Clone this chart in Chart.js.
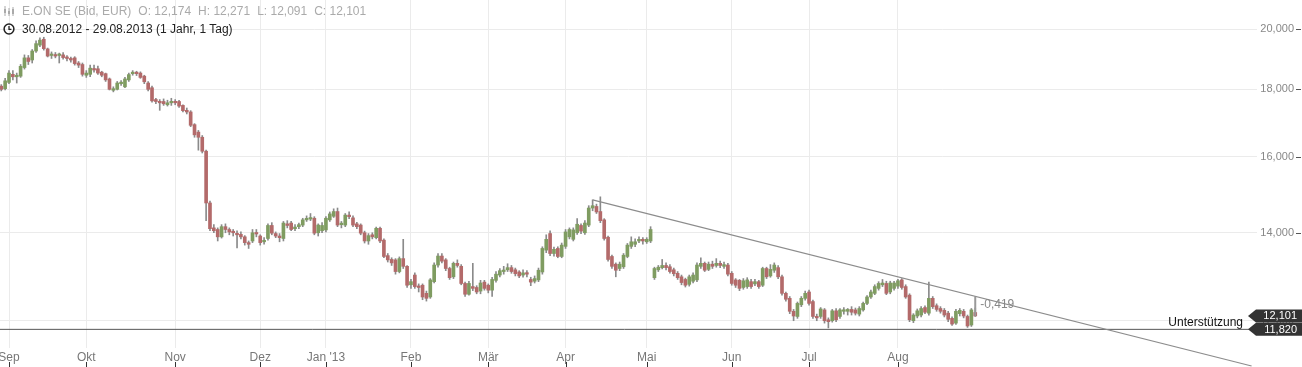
<!DOCTYPE html>
<html>
<head>
<meta charset="utf-8">
<script src="https://cdn.jsdelivr.net/npm/chart.js@4.4.0/dist/chart.umd.min.js"></script>
<style>
  body { margin: 0; background: #fff; }
  #wrap { position: relative; width: 1302px; height: 367px; }
  .hdr { position: absolute; left: 3px; font: 12px "Liberation Sans", Arial, sans-serif; white-space: nowrap; }
  .hdr svg { vertical-align: -2px; margin-right: 7px; }
  .hdr .grp { margin-right: 7px; }
</style>
</head>
<body>
<div id="wrap">
  <canvas id="chart" width="1302" height="367"></canvas>
  <div class="hdr" style="top:4px; color:#aaa">
    <svg width="12" height="12" viewBox="0 0 12 12"><path d="M2 1v10M6 3v8M10 2v9" stroke="#aaa" stroke-width="1"/><rect x="1" y="4" width="2" height="4" fill="#aaa"/><rect x="5" y="6" width="2" height="3" fill="#aaa"/><rect x="9" y="4" width="2" height="5" fill="#aaa"/></svg><span class="grp">E.ON SE (Bid, EUR)</span><span class="grp" id="hO"></span><span class="grp" id="hH"></span><span class="grp" id="hL"></span><span id="hC"></span>
  </div>
  <div class="hdr" style="top:22px; color:#222">
    <svg width="12" height="12" viewBox="0 0 12 12"><circle cx="6" cy="6" r="4.9" fill="none" stroke="#222" stroke-width="1.5"/><path d="M6 3v3.3h2.4" fill="none" stroke="#222" stroke-width="1.3"/></svg>30.08.2012 - 29.08.2013 (1 Jahr, 1 Tag)
  </div>
</div>
<script>
// ===== Daten: E.ON SE, Tageskerzen 30.08.2012 - 29.08.2013 =====

const monthStarts = [2, 22, 45, 67, 84, 106, 126, 146, 167, 189, 209, 232];
const monthLabels = ['Sep', 'Okt', 'Nov', 'Dez', "Jan '13", 'Feb', 'Mär', 'Apr', 'Mai', 'Jun', 'Jul', 'Aug'];
const yTickValues = [12, 14, 16, 18, 20];

const openPrices = [
  18.10, 18.02, 18.22, 18.48, 18.40, 18.42, 18.70, 19.02, 18.95, 19.25,
  19.45, 19.65, 19.32, 19.10, 19.12, 19.10, 19.12, 19.03, 19.00, 19.02,
  18.85, 18.80, 18.45, 18.48, 18.66, 18.66, 18.55, 18.50, 18.33, 17.97,
  18.00, 18.18, 18.08, 18.30, 18.50, 18.54, 18.52, 18.42, 18.20, 18.05,
  17.68, 17.62, 17.62, 17.52, 17.58, 17.62, 17.62, 17.50, 17.35, 17.30,
  16.92, 16.70, 16.55, 16.15, 14.75, 14.12, 14.08, 13.90, 14.15, 14.08,
  14.02, 13.98, 13.96, 13.90, 13.76, 13.80, 14.00, 13.92, 13.78, 13.86,
  14.18, 13.98, 13.92, 13.86, 14.22, 14.24, 14.10, 14.15, 14.19, 14.32,
  14.34, 14.36, 14.00, 14.05, 14.07, 14.32, 14.41, 14.53, 14.20, 14.19,
  14.44, 14.37, 14.22, 14.19, 14.00, 13.80, 13.95, 13.88, 14.11, 13.82,
  13.45, 13.36, 13.35, 13.08, 13.38, 13.20, 12.78, 13.00, 12.75, 12.77,
  12.59, 12.51, 12.85, 13.23, 13.44, 13.35, 13.15, 12.96, 13.27, 13.20,
  12.81, 12.57, 12.74, 12.72, 12.64, 12.84, 12.77, 12.66, 12.88, 13.00,
  13.08, 13.12, 13.17, 13.12, 13.07, 13.00, 13.05, 12.90, 12.86, 12.89,
  13.07, 13.58, 13.98, 13.50, 13.62, 13.43, 13.67, 13.90, 13.84, 14.00,
  14.18, 14.00, 14.19, 14.62, 14.66, 14.53, 14.32, 13.89, 13.43, 13.25,
  13.15, 13.19, 13.43, 13.67, 13.72, 13.80, 13.84, 13.78, 13.80, 12.94,
  13.12, 13.17, 13.22, 13.19, 13.12, 13.04, 12.96, 12.90, 12.79, 12.86,
  12.89, 13.20, 13.27, 13.13, 13.25, 13.22, 13.27, 13.20, 13.23, 13.04,
  12.89, 12.88, 12.72, 12.74, 12.85, 12.80, 12.85, 12.77, 13.15, 12.98,
  13.11, 13.17, 12.96, 12.59, 12.48, 12.20, 12.09, 12.34, 12.48, 12.62,
  12.41, 12.08, 12.09, 12.23, 12.02, 12.00, 12.21, 12.09, 12.20, 12.20,
  12.24, 12.23, 12.14, 12.23, 12.37, 12.51, 12.59, 12.70, 12.78, 12.81,
  12.62, 12.70, 12.75, 12.89, 12.74, 12.55, 12.00, 12.10, 12.12, 12.28,
  12.16, 12.48, 12.32, 12.26, 12.22, 12.16, 12.05, 11.95, 12.15, 12.20,
  12.09, 11.91, 12.174
];

const highPrices = [
  18.15, 18.35, 18.60, 18.60, 18.52, 18.80, 19.12, 19.10, 19.30, 19.60,
  19.70, 19.72, 19.35, 19.22, 19.20, 19.18, 19.20, 19.10, 19.05, 19.06,
  18.90, 18.85, 18.60, 18.78, 18.78, 18.75, 18.58, 18.52, 18.36, 18.08,
  18.25, 18.28, 18.38, 18.52, 18.60, 18.58, 18.56, 18.45, 18.25, 18.10,
  17.72, 17.68, 17.70, 17.66, 17.72, 17.68, 17.66, 17.52, 17.42, 17.34,
  16.95, 16.75, 16.60, 16.18, 14.80, 14.20, 14.12, 14.20, 14.22, 14.12,
  14.08, 14.05, 14.02, 13.93, 13.80, 14.08, 14.08, 13.95, 13.88, 14.22,
  14.25, 14.02, 13.98, 14.28, 14.30, 14.28, 14.20, 14.24, 14.36, 14.42,
  14.48, 14.40, 14.22, 14.25, 14.40, 14.52, 14.60, 14.62, 14.28, 14.48,
  14.52, 14.42, 14.26, 14.22, 14.04, 13.98, 14.00, 14.14, 14.14, 13.85,
  13.50, 13.40, 13.38, 13.42, 13.84, 13.22, 12.90, 13.05, 12.80, 12.80,
  12.64, 12.92, 13.28, 13.50, 13.50, 13.38, 13.18, 13.30, 13.35, 13.24,
  12.84, 12.86, 13.27, 12.76, 12.88, 12.88, 12.80, 12.95, 13.08, 13.15,
  13.20, 13.26, 13.22, 13.16, 13.10, 13.12, 13.10, 12.95, 12.98, 13.16,
  13.66, 13.95, 14.05, 13.65, 13.66, 13.75, 14.08, 14.12, 14.12, 14.35,
  14.22, 14.30, 14.68, 14.83, 14.72, 14.91, 14.35, 13.92, 13.46, 13.28,
  13.30, 13.50, 13.74, 13.90, 13.85, 13.90, 13.88, 13.88, 14.15, 13.18,
  13.22, 13.36, 13.28, 13.24, 13.16, 13.08, 13.00, 12.93, 13.00, 13.05,
  13.28, 13.40, 13.30, 13.30, 13.32, 13.38, 13.32, 13.30, 13.27, 13.08,
  12.92, 12.90, 12.92, 12.94, 12.90, 12.90, 12.88, 13.18, 13.18, 13.24,
  13.28, 13.22, 13.00, 12.62, 12.52, 12.24, 12.40, 12.52, 12.64, 12.66,
  12.44, 12.14, 12.28, 12.26, 12.06, 12.24, 12.26, 12.26, 12.28, 12.26,
  12.30, 12.27, 12.30, 12.40, 12.54, 12.66, 12.78, 12.85, 12.90, 12.86,
  12.86, 12.86, 12.90, 12.92, 12.78, 12.58, 12.15, 12.25, 12.30, 12.32,
  12.84, 12.52, 12.36, 12.30, 12.26, 12.20, 12.08, 12.24, 12.26, 12.24,
  12.12, 12.26, 12.271
];

const lowPrices = [
  17.95, 17.98, 18.18, 18.30, 18.20, 18.38, 18.65, 18.80, 18.85, 19.20,
  19.40, 19.28, 19.05, 19.00, 19.02, 18.85, 18.98, 18.92, 18.88, 18.78,
  18.70, 18.42, 18.38, 18.40, 18.55, 18.48, 18.40, 18.25, 17.98, 17.92,
  17.98, 18.12, 18.05, 18.25, 18.45, 18.44, 18.35, 18.18, 17.95, 17.60,
  17.55, 17.35, 17.50, 17.48, 17.50, 17.52, 17.44, 17.30, 17.24, 16.86,
  16.55, 16.18, 16.10, 14.30, 14.05, 14.00, 13.80, 13.87, 14.00, 13.95,
  13.92, 13.63, 13.85, 13.70, 13.62, 13.76, 13.90, 13.70, 13.72, 13.82,
  13.95, 13.88, 13.78, 13.80, 14.12, 14.05, 14.05, 14.10, 14.15, 14.28,
  14.30, 13.95, 13.92, 14.00, 14.02, 14.28, 14.38, 14.15, 14.12, 14.15,
  14.35, 14.15, 14.10, 13.95, 13.75, 13.72, 13.85, 13.85, 13.76, 13.40,
  13.30, 13.22, 13.02, 13.05, 13.15, 12.72, 12.70, 12.70, 12.62, 12.45,
  12.42, 12.48, 12.82, 13.18, 13.28, 13.10, 12.90, 12.92, 13.18, 12.78,
  12.52, 12.55, 12.65, 12.58, 12.58, 12.66, 12.60, 12.52, 12.84, 12.96,
  13.02, 13.08, 13.04, 12.98, 12.94, 12.95, 12.96, 12.76, 12.82, 12.85,
  13.02, 13.52, 13.45, 13.44, 13.40, 13.40, 13.62, 13.85, 13.80, 13.96,
  13.98, 13.96, 14.15, 14.55, 14.48, 14.25, 13.82, 13.32, 13.15, 12.96,
  13.10, 13.15, 13.40, 13.62, 13.66, 13.76, 13.72, 13.74, 13.76, 12.90,
  13.08, 13.14, 13.12, 13.04, 12.98, 12.90, 12.78, 12.73, 12.75, 12.82,
  12.85, 13.15, 13.08, 13.10, 13.15, 13.18, 13.17, 13.15, 12.98, 12.77,
  12.72, 12.65, 12.68, 12.70, 12.70, 12.76, 12.70, 12.74, 12.92, 12.95,
  13.06, 12.92, 12.55, 12.42, 12.15, 12.00, 12.05, 12.30, 12.44, 12.33,
  12.05, 12.00, 12.05, 11.95, 11.85, 11.97, 11.98, 12.05, 12.14, 12.12,
  12.12, 12.12, 12.10, 12.20, 12.34, 12.48, 12.56, 12.66, 12.74, 12.56,
  12.58, 12.66, 12.70, 12.68, 12.48, 11.98, 11.96, 12.06, 12.08, 12.15,
  12.12, 12.26, 12.20, 12.16, 12.08, 11.98, 11.90, 11.92, 12.10, 12.06,
  11.86, 11.88, 12.091
];

const closePrices = [
  18.00, 18.27, 18.52, 18.40, 18.45, 18.74, 19.02, 18.90, 19.25, 19.50,
  19.62, 19.33, 19.08, 19.14, 19.08, 19.12, 19.03, 19.00, 18.95, 18.83,
  18.78, 18.48, 18.52, 18.68, 18.62, 18.52, 18.45, 18.30, 18.00, 18.02,
  18.20, 18.22, 18.33, 18.47, 18.54, 18.50, 18.38, 18.24, 18.00, 17.64,
  17.62, 17.58, 17.55, 17.58, 17.62, 17.58, 17.48, 17.34, 17.30, 16.90,
  16.62, 16.55, 16.15, 14.75, 14.10, 14.05, 13.90, 14.15, 14.08, 14.02,
  14.00, 13.95, 13.90, 13.76, 13.72, 14.00, 13.97, 13.76, 13.80, 14.18,
  13.99, 13.92, 13.88, 14.24, 14.18, 14.08, 14.14, 14.20, 14.32, 14.35,
  14.37, 13.99, 14.19, 14.18, 14.36, 14.47, 14.53, 14.19, 14.22, 14.44,
  14.40, 14.19, 14.15, 13.99, 13.80, 13.93, 13.90, 14.11, 13.80, 13.43,
  13.35, 13.28, 13.08, 13.38, 13.20, 12.77, 12.85, 12.74, 12.72, 12.51,
  12.48, 12.89, 13.23, 13.44, 13.32, 13.15, 12.94, 13.27, 13.22, 12.81,
  12.57, 12.81, 12.70, 12.62, 12.82, 12.70, 12.66, 12.90, 13.02, 13.10,
  13.11, 13.17, 13.08, 13.03, 12.98, 13.05, 13.02, 12.84, 12.92, 13.11,
  13.62, 13.84, 13.50, 13.60, 13.43, 13.70, 14.02, 14.08, 14.07, 14.21,
  14.04, 14.24, 14.62, 14.68, 14.52, 14.30, 13.86, 13.36, 13.20, 13.11,
  13.25, 13.46, 13.70, 13.78, 13.78, 13.84, 13.80, 13.84, 14.08, 13.15,
  13.18, 13.22, 13.17, 13.08, 13.03, 12.94, 12.83, 12.77, 12.96, 13.00,
  13.23, 13.27, 13.11, 13.25, 13.20, 13.27, 13.22, 13.24, 13.02, 12.81,
  12.77, 12.70, 12.87, 12.89, 12.74, 12.85, 12.74, 13.15, 12.96, 13.13,
  13.23, 12.96, 12.59, 12.46, 12.20, 12.10, 12.37, 12.48, 12.59, 12.37,
  12.09, 12.06, 12.25, 12.00, 11.98, 12.21, 12.02, 12.23, 12.23, 12.24,
  12.18, 12.16, 12.26, 12.37, 12.51, 12.62, 12.74, 12.81, 12.82, 12.59,
  12.82, 12.82, 12.87, 12.72, 12.51, 12.02, 12.12, 12.21, 12.26, 12.18,
  12.48, 12.30, 12.24, 12.20, 12.12, 12.03, 11.93, 12.20, 12.22, 12.10,
  11.89, 12.23, 12.101
];

// Trendlinie (Widerstand) und Unterstützung
const trendStart = { x: 153, y: 14.83 };
const trendEnd = { x: 323.5, y: 11.085 };
const trendAtLast = 12.52;
const supportLevel = 11.82;

const GREEN = '#7f9c61';
const RED = '#b36a6a';
const WICK = '#8a8a8a';

function fmt(v) {
  return v.toFixed(3).replace('.', ',');
}

const lastIdx = closePrices.length - 1;
document.getElementById('hO').textContent = 'O: ' + fmt(openPrices[lastIdx]);
document.getElementById('hH').textContent = 'H: ' + fmt(highPrices[lastIdx]);
document.getElementById('hL').textContent = 'L: ' + fmt(lowPrices[lastIdx]);
document.getElementById('hC').textContent = 'C: ' + fmt(closePrices[lastIdx]);

Chart.defaults.font.family = '"Liberation Sans", Arial, sans-serif';

// Beschriftungen, Preisboxen, Tickstriche
const overlayPlugin = {
  id: 'overlay',
  afterDraw(chart) {
    const ctx = chart.ctx;
    const xs = chart.scales.x;
    const ys = chart.scales.y;
    ctx.save();

    // kleine Striche rechts neben den Y-Labels
    ctx.fillStyle = '#555';
    yTickValues.forEach(v => {
      const y = Math.round(ys.getPixelForValue(v));
      ctx.fillRect(1296, y, 5, 1);
    });

    // Monatsstriche unter den X-Labels
    ctx.fillStyle = '#333';
    monthStarts.forEach(i => {
      const x = Math.round(xs.getPixelForValue(i));
      ctx.fillRect(x, 362, 1, 5);
    });

    // Unterstützung
    const ySup = ys.getPixelForValue(supportLevel);
    ctx.font = '12px "Liberation Sans", Arial, sans-serif';
    ctx.fillStyle = '#111';
    ctx.textAlign = 'right';
    ctx.textBaseline = 'middle';
    ctx.fillText('Unterstützung', 1243, ySup - 7);

    // Preisboxen
    [closePrices[lastIdx], supportLevel].forEach(v => {
      const y = ys.getPixelForValue(v);
      ctx.fillStyle = '#333';
      ctx.beginPath();
      ctx.moveTo(1248, y);
      ctx.lineTo(1256, y - 6.5);
      ctx.lineTo(1302, y - 6.5);
      ctx.lineTo(1302, y + 6.5);
      ctx.lineTo(1256, y + 6.5);
      ctx.closePath();
      ctx.fill();
      ctx.fillStyle = '#fff';
      ctx.font = '11px "Liberation Sans", Arial, sans-serif';
      ctx.textAlign = 'right';
      ctx.fillText(fmt(v), 1297, y + 0.5);
    });

    // Abstand zur Trendlinie
    const xl = xs.getPixelForValue(lastIdx);
    const yMid = (ys.getPixelForValue(closePrices[lastIdx]) + ys.getPixelForValue(trendAtLast)) / 2;
    ctx.fillStyle = '#888';
    ctx.font = '12px "Liberation Sans", Arial, sans-serif';
    ctx.textAlign = 'left';
    ctx.fillText(fmt(closePrices[lastIdx] - trendAtLast), xl + 5, yMid - 2);

    ctx.restore();
  }
};

const idx = closePrices.map((_, i) => i);

new Chart(document.getElementById('chart'), {
  type: 'bar',
  data: {
    datasets: [
      {
        type: 'line',
        data: [trendStart, trendEnd],
        borderColor: '#8c8c8c',
        borderWidth: 1.2,
        pointRadius: 0,
        clip: false,
        order: 0
      },
      {
        type: 'line',
        data: [{ x: -0.33, y: supportLevel }, { x: 322.8, y: supportLevel }],
        borderColor: '#555',
        borderWidth: 1,
        pointRadius: 0,
        order: 0
      },
      {
        type: 'line',
        data: [{ x: lastIdx, y: closePrices[lastIdx] }, { x: lastIdx, y: trendAtLast }],
        borderColor: '#999',
        borderWidth: 2,
        pointRadius: 0,
        order: 1
      },
      {
        data: idx.map(i => ({ x: i, y: [openPrices[i], closePrices[i]] })),
        backgroundColor: idx.map(i => closePrices[i] < openPrices[i] ? RED : GREEN),
        borderWidth: 0,
        barThickness: 3,
        minBarLength: 1.5,
        grouped: false,
        order: 2
      },
      {
        data: idx.map(i => ({ x: i, y: [lowPrices[i], highPrices[i]] })),
        backgroundColor: WICK,
        borderWidth: 0,
        barThickness: 1,
        grouped: false,
        order: 3
      }
    ]
  },
  options: {
    responsive: false,
    animation: false,
    events: [],
    layout: { padding: { left: 0, right: 8, top: 0, bottom: 0 } },
    plugins: {
      legend: { display: false },
      tooltip: { enabled: false }
    },
    scales: {
      x: {
        type: 'linear',
        offset: false,
        min: -0.33,
        max: 324.9,
        position: 'bottom',
        grid: { color: '#ebebeb', drawTicks: false, offset: false },
        border: { display: false },
        ticks: {
          autoSkip: false,
          maxRotation: 0,
          padding: 2,
          color: '#777',
          font: { size: 12 },
          callback: v => {
            const k = monthStarts.indexOf(v);
            return k >= 0 ? monthLabels[k] : '';
          }
        },
        afterBuildTicks: s => { s.ticks = monthStarts.map(v => ({ value: v })); },
        afterFit: s => { s.height = 19; s.paddingLeft = 0; s.paddingRight = 0; }
      },
      y: {
        type: 'logarithmic',
        position: 'right',
        min: 11.44,
        max: 21.05,
        bounds: 'data',
        grid: { color: '#ebebeb', drawTicks: false },
        border: { display: false },
        ticks: {
          crossAlign: 'far',
          padding: 0,
          color: '#888',
          font: { size: 11 },
          callback: v => fmt(v)
        },
        afterBuildTicks: s => { s.ticks = yTickValues.map(v => ({ value: v })); },
        afterFit: s => { s.width = 37; s.paddingTop = 0; s.paddingBottom = 0; }
      }
    }
  },
  plugins: [overlayPlugin]
});
</script>
</body>
</html>
